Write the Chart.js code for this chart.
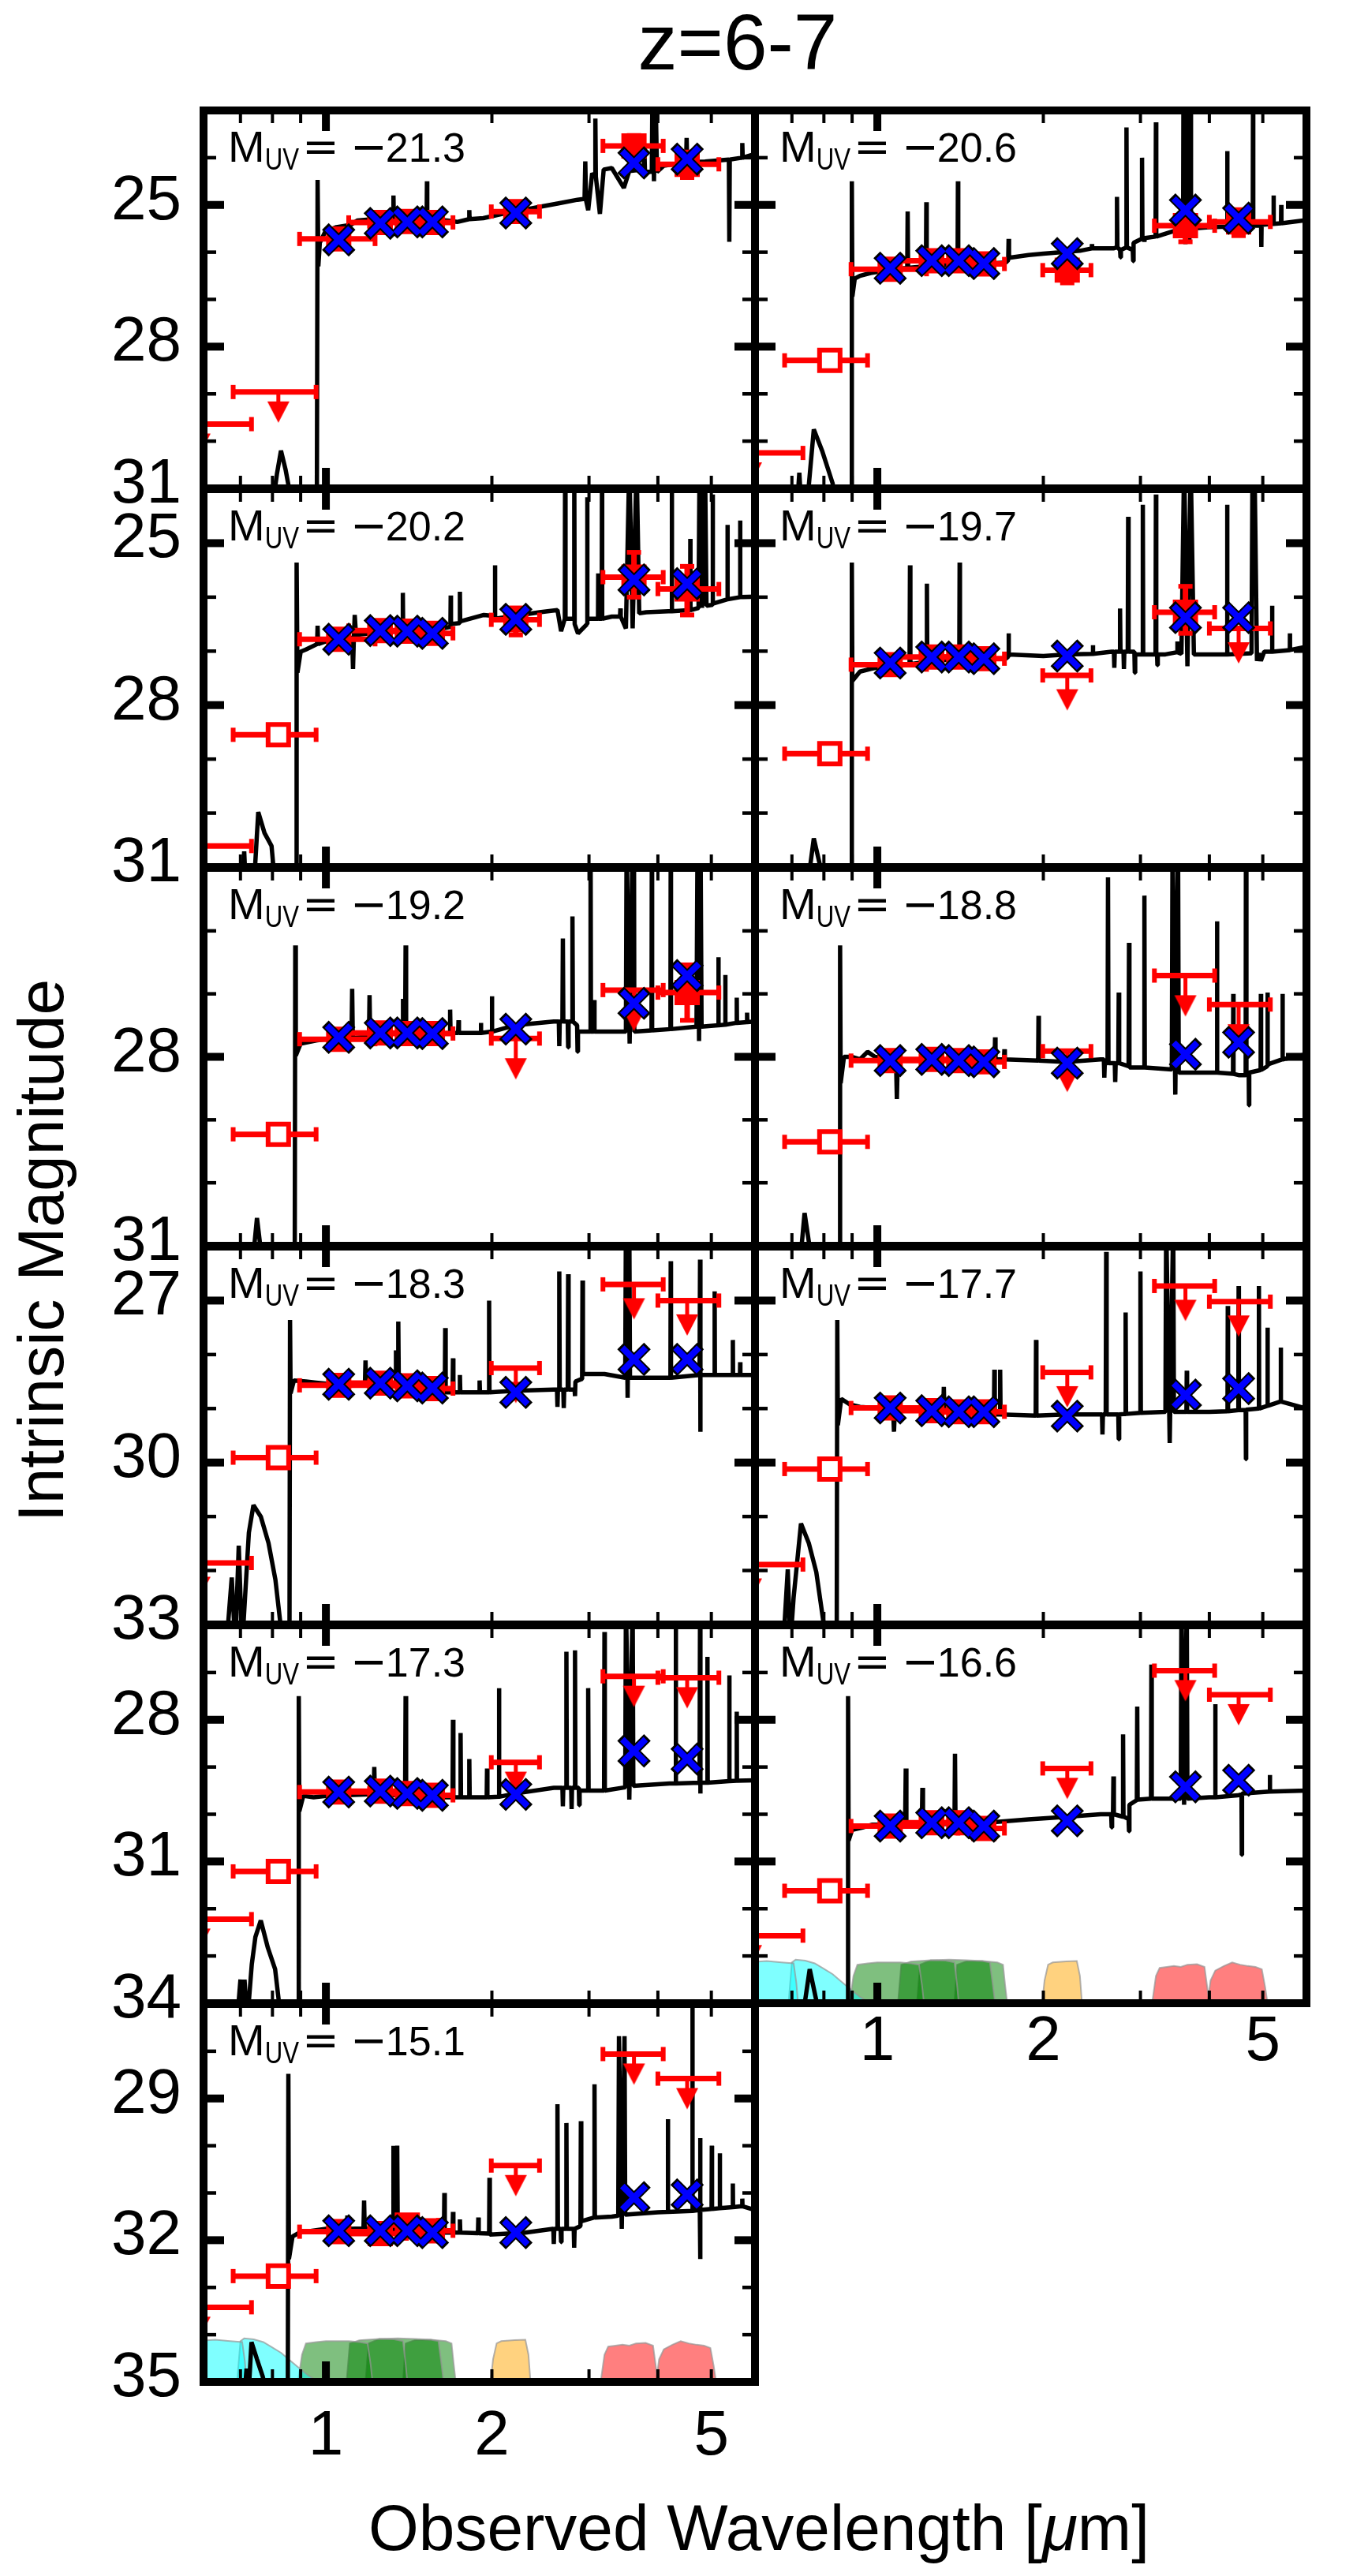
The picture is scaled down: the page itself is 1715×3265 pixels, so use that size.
<!DOCTYPE html>
<html>
<head>
<meta charset="utf-8">
<title>z=6-7</title>
<script src="https://cdn.jsdelivr.net/npm/chart.js@4.4.1/dist/chart.umd.min.js"></script>
<style>
  html, body { margin: 0; padding: 0; background: #fff; }
  body { position: relative; width: 1715px; height: 3265px; overflow: hidden; font-family: "Liberation Sans", Arial, sans-serif; }
  canvas { position: absolute; }
  .lbl { position: absolute; white-space: nowrap; line-height: 1; color: #000; }
  #title { font-size: 100px; left: 935px; top: 3px; transform: translateX(-50%); }
  #ytitle { font-size: 82px; left: 52px; top: 1585px; transform: translate(-50%, -50%) rotate(-90deg); }
  #xtitle { font-size: 82px; left: 962px; top: 3163px; transform: translateX(-50%); }
</style>
</head>
<body>
<div class="lbl" id="title">z=6-7</div>
<div class="lbl" id="ytitle">Intrinsic Magnitude</div>
<div class="lbl" id="xtitle">Observed Wavelength [<i>μ</i>m]</div>
<script>
// filters: F606W F814W F105W F125W F140W F160W Ks IRAC1 IRAC2
const filterNames = ['F606W', 'F814W', 'F105W', 'F125W', 'F140W', 'F160W', 'Ks', 'IRAC1', 'IRAC2'];
const filterWave = [0.59, 0.82, 1.055, 1.255, 1.405, 1.56, 2.21, 3.62, 4.52];
const filterLo = [0.47, 0.679, 0.896, 1.10, 1.20, 1.40, 1.995, 3.18, 4.0];
const filterHi = [0.733, 0.96, 1.228, 1.40, 1.60, 1.70, 2.44, 4.09, 5.16];

// M_UV of each panel
const muvValues = [-21.3, -20.6, -20.2, -19.7, -19.2, -18.8, -18.3, -17.7, -17.3, -16.6, -15.1];

// y ranges (magnitudes) per row, and the labelled ticks
const rowMin = [23, 24, 25, 26, 26, 27];
const rowMax = [31, 31, 31, 33, 34, 35];
const rowLabels = [[25, 28, 31], [25, 28, 31], [28, 31], [27, 30, 33], [28, 31, 34], [29, 32, 35]];
const xLabels = [1, 2, 5];
const xMinor = [0.7, 0.8, 0.9, 2, 3, 4, 5];
const xMajor = [1];

// filter transmission (wavelength, relative throughput)
const curveF606W = [[0.47,0],[0.49,0.88],[0.53,0.92],[0.58,0.9],[0.63,0.93],[0.67,0.9],[0.705,0.88],[0.713,0.45],[0.718,0]];
const curveF814W = [[0.69,0],[0.70,0.9],[0.711,0.96],[0.74,0.94],[0.77,0.88],[0.80,0.76],[0.83,0.64],[0.86,0.48],[0.90,0.28],[0.93,0.14],[0.97,0]];
const curveF105W = [[0.89,0],[0.905,0.6],[0.92,0.85],[0.96,0.88],[1.0,0.9],[1.05,0.9],[1.1,0.9],[1.15,0.88],[1.19,0.85],[1.205,0.4],[1.215,0]];
const curveF125W = [[1.09,0],[1.105,0.85],[1.15,0.92],[1.25,0.95],[1.33,0.94],[1.38,0.9],[1.395,0.4],[1.405,0]];
const curveF140W = [[1.18,0],[1.195,0.85],[1.25,0.95],[1.35,0.96],[1.45,0.95],[1.55,0.93],[1.6,0.9],[1.62,0.4],[1.635,0]];
const curveF160W = [[1.38,0],[1.395,0.85],[1.45,0.92],[1.55,0.93],[1.65,0.9],[1.69,0.85],[1.705,0.4],[1.72,0]];
const curveKs = [[1.99,0],[2.01,0.5],[2.04,0.85],[2.08,0.9],[2.2,0.92],[2.3,0.93],[2.33,0.6],[2.35,0]];
const curveIRAC1 = [[3.15,0],[3.2,0.6],[3.25,0.78],[3.35,0.8],[3.45,0.82],[3.55,0.8],[3.65,0.85],[3.8,0.86],[3.92,0.8],[3.97,0.3],[4.0,0]];
const curveIRAC2 = [[3.97,0],[4.02,0.5],[4.1,0.72],[4.25,0.82],[4.4,0.9],[4.55,0.85],[4.7,0.82],[4.85,0.8],[4.98,0.75],[5.05,0.35],[5.1,0]];
const filterFill = ['rgba(0,255,255,0.5)', 'rgba(0,255,255,0.5)', 'rgba(0,128,0,0.5)', 'rgba(0,128,0,0.5)', 'rgba(0,128,0,0.5)', 'rgba(0,128,0,0.5)', 'rgba(255,165,0,0.5)', 'rgba(255,0,0,0.5)', 'rgba(255,0,0,0.5)'];
const filterPanels = [9, 10];

// model spectra [wavelength um, mag]
const spec1 = [[0.80,31.4],[0.815,30.7],[0.829,30.2],[0.845,30.6],[0.87,31.4],
  [0.963,31.4],[0.966,24.47],[0.969,26.3],[0.975,25.8],[0.998,25.56],[1.045,25.47],[1.11,25.42],[1.14,25.33],[1.22,25.3],
  [1.324,25.3],[1.326,24.8],[1.328,25.3],[1.42,25.3],[1.523,25.3],[1.525,24.5],[1.527,25.3],[1.66,25.33],[1.73,25.36],
  [1.818,25.3],[1.82,25.11],[1.822,25.3],[1.93,25.28],[2.09,25.19],[2.47,25.03],[2.63,24.97],[2.86,24.89],
  [2.945,24.87],[2.954,24.08],[2.963,24.9],[2.99,25.11],[3.04,24.33],[3.075,24.4],[3.081,23.17],[3.087,24.4],
  [3.14,25.19],[3.19,24.25],[3.3,24.22],[3.47,24.64],[3.55,24.28],[3.77,24.25],[3.78,23.78],[3.79,24.3],
  [3.90,24.3],[3.91,22.5],[3.935,24.5],[3.96,22.5],[3.985,24.3],[4.1,24.17],[4.5,24.1],[4.51,23.58],[4.52,24.1],
  [4.87,24.08],[5.38,24.04],[5.39,25.78],[5.40,24.04],[5.68,24.0],[5.69,23.69],[5.70,24.0],[6.0,23.92]];
const spec2 = [[0.715,31.4],[0.722,30.67],[0.728,31.4],[0.745,31.4],[0.767,29.75],[0.795,30.22],[0.83,30.9],[0.84,31.4],
  [0.897,31.4],[0.899,24.5],[0.901,26.94],[0.91,26.56],[0.93,26.5],[0.972,26.44],[1.05,26.38],
  [1.133,26.33],[1.135,25.14],[1.137,26.33],[1.225,26.3],[1.227,24.94],[1.229,26.3],[1.26,26.28],
  [1.398,26.26],[1.40,24.5],[1.402,26.26],[1.47,26.26],[1.71,26.22],[1.727,26.17],[1.73,25.72],[1.733,26.12],
  [1.88,26.06],[2.0,26.03],[2.33,25.97],[2.448,25.92],[2.45,25.83],[2.452,25.92],[2.68,25.92],
  [2.715,25.9],[2.72,24.83],[2.725,25.9],[2.755,25.95],[2.76,26.11],[2.765,25.95],[2.825,25.9],[2.83,23.36],[2.835,25.9],
  [2.905,25.95],[2.91,26.19],[2.915,25.8],[3.015,25.72],[3.02,24.0],[3.025,25.72],[3.045,25.72],[3.05,25.78],[3.055,25.7],
  [3.195,25.67],[3.2,23.25],[3.205,25.67],[3.43,25.56],[3.585,25.55],[3.59,22.5],[3.62,25.83],[3.65,22.5],[3.68,25.8],
  [3.70,22.5],[3.705,25.5],[3.99,25.47],[4.305,25.46],[4.31,23.86],[4.315,25.46],[4.66,25.44],[4.795,25.44],[4.80,22.5],
  [4.805,25.44],[4.965,25.44],[4.97,25.89],[4.975,25.42],[5.225,25.4],[5.23,24.8],[5.235,25.4],[5.395,25.39],[5.40,25.0],
  [5.405,25.39],[6.0,25.32]];
const spec3 = [[0.705,31.4],[0.711,30.71],[0.716,31.4],[0.74,31.4],[0.754,29.98],[0.774,30.37],[0.797,30.61],[0.81,31.4],
  [0.883,31.4],[0.885,25.36],[0.888,27.4],[0.90,27.01],[0.92,26.97],[0.964,26.87],[0.966,26.53],[0.968,26.87],[1.0,26.82],
  [1.116,26.75],[1.12,27.33],[1.124,26.75],[1.128,26.33],[1.134,26.7],[1.2,26.67],[1.377,26.63],[1.379,25.92],[1.381,26.63],
  [1.535,26.63],[1.682,26.55],[1.684,25.97],[1.686,26.5],[1.748,26.48],[1.75,25.9],[1.752,26.45],[1.934,26.33],
  [2.024,26.35],[2.026,25.41],[2.028,26.4],[2.44,26.28],[2.63,26.24],[2.67,26.63],[2.712,26.4],[2.715,23.5],[2.72,26.4],
  [2.816,26.4],[2.821,23.5],[2.826,26.5],[2.865,26.67],[2.975,26.5],[2.978,24.15],[2.981,26.4],[3.115,26.4],[3.118,25.56],
  [3.121,26.4],[3.164,26.4],[3.167,23.5],[3.17,26.4],[3.3,26.36],[3.415,26.36],[3.42,26.21],[3.425,26.36],[3.5,26.58],
  [3.55,23.5],[3.6,26.58],[3.66,23.5],[3.7,26.3],[3.81,26.28],[4.18,26.26],[4.237,26.26],[4.24,23.5],[4.243,26.26],
  [4.577,26.24],[4.58,24.92],[4.583,26.24],[4.74,26.2],[4.76,23.5],[4.81,26.2],[4.87,23.5],[4.9,26.16],[5.027,26.14],
  [5.03,24.1],[5.033,26.12],[5.347,26.04],[5.35,24.66],[5.353,26.04],[5.637,26.0],[5.64,24.58],[5.643,26.0],[6.0,25.99]];
const spec4 = [[0.746,31.4],[0.767,30.47],[0.805,31.4],
  [0.897,31.4],[0.899,25.36],[0.901,27.55],[0.93,27.38],[0.972,27.33],[1.05,27.26],[1.144,27.24],[1.146,25.41],[1.148,27.24],
  [1.228,27.2],[1.23,25.75],[1.232,27.2],[1.26,27.18],[1.408,27.15],[1.41,25.36],[1.412,27.15],[1.47,27.14],[1.71,27.14],
  [1.728,27.1],[1.73,26.67],[1.732,27.06],[2.0,27.09],[2.2,27.06],[2.458,27.05],[2.46,26.89],[2.462,27.05],[2.66,27.01],
  [2.685,27.01],[2.69,27.31],[2.695,27.01],[2.75,27.01],[2.755,26.21],[2.76,27.01],[2.795,27.01],[2.80,27.33],[2.805,27.01],
  [2.845,27.01],[2.85,24.51],[2.855,27.01],[2.925,27.01],[2.93,27.4],[2.935,27.06],[3.025,27.06],[3.03,24.29],[3.035,27.06],
  [3.195,27.06],[3.2,24.1],[3.205,27.06],[3.215,27.06],[3.22,27.26],[3.225,27.06],[3.33,27.06],[3.498,27.02],[3.5,26.82],
  [3.502,27.02],[3.56,27.05],[3.6,23.5],[3.65,27.28],[3.7,23.5],[3.75,27.06],[4.0,27.06],[4.308,27.06],[4.31,24.29],
  [4.312,27.06],[4.77,27.04],[4.79,23.5],[4.83,23.5],[4.88,27.18],[4.92,27.04],[4.96,27.18],[5.03,27.01],[5.198,27.01],
  [5.2,26.16],[5.202,27.01],[5.598,26.98],[5.6,26.67],[5.602,26.98],[6.0,26.92]];
const spec5 = [[0.734,31.4],[0.75,30.56],[0.77,31.4],
  [0.878,31.4],[0.88,26.23],[0.882,27.98],[0.90,27.79],[0.96,27.74],[1.0,27.72],[1.113,27.7],[1.116,26.92],[1.119,27.7],
  [1.197,27.68],[1.20,27.02],[1.203,27.66],[1.25,27.62],[1.377,27.62],[1.38,27.08],[1.383,27.62],[1.392,27.62],[1.395,26.23],
  [1.398,27.62],[1.55,27.63],[1.677,27.62],[1.68,27.25],[1.683,27.62],[1.737,27.62],[1.74,27.42],[1.743,27.62],
  [1.907,27.62],[1.91,27.46],[1.913,27.62],[1.997,27.6],[2.0,27.04],[2.003,27.6],[2.2,27.5],[2.59,27.44],[2.645,27.44],
  [2.65,27.83],[2.655,27.44],[2.685,27.44],[2.69,26.12],[2.695,27.44],[2.745,27.44],[2.75,27.85],[2.755,27.44],
  [2.795,27.44],[2.80,25.77],[2.805,27.44],[2.855,27.5],[2.86,27.92],[2.865,27.6],[3.015,27.6],[3.02,24.5],[3.025,27.6],
  [3.06,27.6],[3.065,27.1],[3.07,27.6],[3.25,27.6],[3.50,27.6],[3.51,24.5],[3.555,27.79],[3.60,24.5],[3.62,24.5],
  [3.625,27.6],[3.895,27.58],[3.9,24.5],[3.905,27.58],[4.215,27.56],[4.22,24.5],[4.225,27.56],[4.70,27.52],[4.72,24.5],
  [4.75,27.75],[4.78,24.5],[4.8,27.52],[5.145,27.5],[5.15,26.42],[5.155,27.5],[5.295,27.49],[5.3,26.7],[5.305,27.49],
  [5.555,27.46],[5.56,27.06],[5.565,27.46],[5.8,27.45],[5.805,27.3],[5.81,27.45],[6.0,27.44]];
const spec6 = [[0.722,31.4],[0.738,30.48],[0.765,31.4],
  [0.854,31.4],[0.856,26.23],[0.858,28.42],[0.87,28.0],[0.90,28.0],[0.93,28.04],[0.96,27.92],[0.99,28.0],[1.081,28.04],
  [1.085,28.67],[1.089,28.04],[1.2,28.04],[1.632,28.04],[1.635,27.69],[1.638,28.04],[1.697,28.04],[1.70,27.88],[1.703,28.04],
  [1.957,28.06],[1.96,27.35],[1.963,28.06],[2.2,28.08],[2.54,28.04],[2.575,28.04],[2.58,28.33],[2.585,28.1],[2.615,28.1],
  [2.62,25.15],[2.625,28.1],[2.695,28.1],[2.70,28.4],[2.705,28.1],[2.735,28.1],[2.74,26.98],[2.745,28.1],[2.855,28.15],
  [2.86,26.19],[2.865,28.17],[2.96,28.17],[3.045,28.17],[3.05,25.44],[3.055,28.17],[3.42,28.2],[3.43,24.5],[3.47,28.6],
  [3.51,24.5],[3.52,28.25],[4.0,28.25],[4.125,28.25],[4.13,25.85],[4.135,28.25],[4.415,28.27],[4.42,27.0],[4.425,28.27],
  [4.52,28.29],[4.655,28.29],[4.66,24.5],[4.67,28.29],[4.715,28.29],[4.72,28.77],[4.725,28.25],[4.955,28.21],[4.96,27.0],
  [4.965,28.21],[5.095,28.15],[5.1,26.98],[5.105,28.12],[5.425,28.04],[5.43,27.0],[5.435,28.04],[6.0,27.96]];
const spec7 = [[0.66,33.4],[0.675,32.13],[0.685,33.4],[0.695,31.54],[0.705,33.4],[0.725,31.3],[0.739,30.79],[0.762,31.0],
  [0.787,31.49],[0.81,32.17],[0.836,33.4],
  [0.859,33.4],[0.861,27.36],[0.863,28.72],[0.875,28.48],[0.92,28.5],[0.96,28.52],[1.0,28.54],[1.177,28.56],[1.18,28.11],
  [1.183,28.56],[1.337,28.58],[1.34,27.92],[1.343,28.58],[1.35,28.58],[1.353,27.39],[1.356,28.6],[1.55,28.66],[1.643,28.7],
  [1.646,27.51],[1.649,28.7],[1.697,28.7],[1.70,28.07],[1.703,28.7],[1.747,28.7],[1.75,28.38],[1.753,28.7],[1.897,28.7],
  [1.90,28.48],[1.903,28.7],[1.974,28.7],[1.977,27.0],[1.98,28.7],[2.2,28.67],[2.59,28.65],[2.625,28.65],[2.63,28.97],
  [2.635,28.65],[2.645,28.65],[2.65,26.46],[2.655,28.65],[2.695,28.65],[2.70,28.99],[2.705,28.65],[2.745,28.65],[2.75,26.51],
  [2.755,28.65],[2.825,28.65],[2.83,28.77],[2.835,28.5],[2.915,28.45],[2.92,26.63],[2.925,28.36],[3.2,28.36],[3.49,28.43],
  [3.50,25.5],[3.525,28.8],[3.55,25.5],[3.56,28.43],[4.0,28.43],[4.215,28.43],[4.22,26.27],[4.225,28.43],[4.76,28.38],
  [4.77,26.24],[4.775,29.43],[4.78,28.38],[5.065,28.38],[5.07,26.83],[5.075,28.38],[5.465,28.38],[5.47,27.73],[5.475,28.38],
  [5.635,28.38],[5.64,28.14],[5.645,28.38],[6.0,28.38]];
const spec8 = [[0.675,33.4],[0.688,31.98],[0.695,33.4],[0.705,32.5],[0.727,31.13],[0.751,31.49],[0.775,32.03],[0.81,33.4],
  [0.844,33.4],[0.846,27.36],[0.848,29.31],[0.86,28.82],[0.89,28.92],[0.93,28.97],[0.99,28.99],[1.068,29.0],[1.072,29.43],
  [1.076,29.0],[1.2,29.04],[1.317,29.04],[1.32,28.6],[1.323,29.04],[1.6,29.1],[1.627,29.11],[1.63,28.28],[1.633,29.11],
  [1.667,29.11],[1.67,28.28],[1.673,29.11],[1.937,29.13],[1.94,27.73],[1.943,29.13],[2.2,29.11],[2.5,29.11],[2.555,29.11],
  [2.56,29.48],[2.565,29.11],[2.595,29.11],[2.6,26.1],[2.605,29.11],[2.735,29.11],[2.74,29.57],[2.745,29.11],[2.815,29.1],
  [2.82,27.22],[2.825,29.1],[2.995,29.08],[3.0,26.46],[3.005,29.08],[3.33,29.06],[3.34,25.5],[3.39,29.64],[3.44,25.5],
  [3.45,29.06],[3.635,29.06],[3.64,28.3],[3.645,29.06],[4.0,29.06],[4.315,29.05],[4.32,27.1],[4.325,29.05],[4.515,29.03],
  [4.52,26.73],[4.525,29.03],[4.655,29.03],[4.66,29.94],[4.665,29.02],[4.915,29.0],[4.92,26.73],[4.925,29.0],[5.095,28.95],
  [5.1,27.5],[5.105,28.95],[5.385,28.87],[5.39,27.87],[5.395,28.87],[6.0,29.0]];
const spec9 = [[0.69,34.4],[0.70,33.5],[0.705,34.4],[0.712,33.5],[0.72,34.4],[0.734,33.17],[0.745,32.6],[0.762,32.25],
  [0.785,32.83],[0.809,33.28],[0.83,34.4],
  [0.891,34.4],[0.893,27.5],[0.895,29.94],[0.91,29.61],[0.95,29.64],[1.0,29.61],[1.2,29.58],[1.221,29.58],[1.224,29.0],
  [1.227,29.58],[1.377,29.6],[1.38,29.36],[1.383,29.6],[1.392,29.6],[1.395,27.5],[1.398,29.6],[1.55,29.64],[1.697,29.64],
  [1.70,28.0],[1.703,29.64],[1.752,29.64],[1.755,28.28],[1.758,29.64],[1.817,29.64],[1.82,28.83],[1.823,29.64],[1.957,29.64],
  [1.96,29.03],[1.963,29.64],[2.057,29.63],[2.06,27.33],[2.063,29.63],[2.21,29.56],[2.59,29.44],[2.685,29.44],[2.69,29.83],
  [2.695,29.44],[2.725,29.44],[2.73,26.56],[2.735,29.44],[2.785,29.44],[2.79,29.89],[2.795,29.44],[2.825,29.44],[2.83,26.53],
  [2.835,29.44],[2.875,29.44],[2.88,29.81],[2.885,29.5],[2.985,29.5],[2.99,27.33],[2.995,29.5],[3.195,29.5],[3.2,26.14],
  [3.205,29.5],[3.49,29.43],[3.50,25.5],[3.55,29.69],[3.60,25.5],[3.61,29.4],[4.2,29.35],[4.305,29.35],[4.31,25.5],
  [4.315,29.35],[4.76,29.33],[4.77,25.5],[4.775,29.56],[4.78,29.33],[4.915,29.33],[4.92,26.67],[4.925,29.33],[5.385,29.3],
  [5.39,27.06],[5.395,29.3],[5.555,29.29],[5.56,27.83],[5.565,29.29],[6.0,29.28]];
const spec10 = [[0.73,34.4],[0.754,33.28],[0.79,34.4],
  [0.883,34.4],[0.885,27.5],[0.887,30.56],[0.90,30.33],[0.94,30.28],[0.98,30.22],[1.123,30.22],[1.126,29.03],[1.129,30.22],
  [1.204,30.22],[1.207,29.44],[1.21,30.22],[1.38,30.2],[1.383,28.72],[1.386,30.2],[1.61,30.17],[1.88,30.11],[2.18,30.06],
  [2.54,30.0],[2.655,30.0],[2.66,30.28],[2.665,30.0],[2.675,30.0],[2.68,29.2],[2.685,30.0],[2.785,30.05],[2.79,28.31],
  [2.795,30.05],[2.855,30.1],[2.86,30.36],[2.865,29.8],[2.955,29.7],[2.96,27.72],[2.965,29.69],[3.135,29.67],[3.14,26.83],
  [3.145,29.67],[3.55,29.67],[3.56,25.5],[3.60,29.8],[3.64,25.5],[3.65,29.67],[4.0,29.64],[4.095,29.64],[4.1,27.67],
  [4.105,29.64],[4.5,29.6],[4.575,29.58],[4.58,30.86],[4.585,29.56],[5.145,29.52],[5.15,29.17],[5.155,29.52],[6.0,29.5]];
const spec11 = [[0.711,35.4],[0.718,34.72],[0.723,35.4],[0.733,34.16],[0.75,34.52],[0.768,34.88],[0.787,35.4],
  [0.853,35.4],[0.855,28.48],[0.857,32.4],[0.87,31.92],[0.896,31.84],[1.0,31.76],[1.091,31.76],[1.094,31.48],[1.097,31.76],
  [1.17,31.75],[1.173,31.16],[1.176,31.75],[1.323,31.78],[1.326,30.0],[1.329,31.78],[1.344,31.78],[1.347,30.0],[1.35,31.8],
  [1.5,31.82],[1.637,31.84],[1.64,31.0],[1.643,31.84],[1.697,31.84],[1.70,31.4],[1.703,31.84],[1.747,31.84],[1.75,31.56],
  [1.753,31.84],[1.887,31.85],[1.89,31.52],[1.893,31.85],[1.977,31.86],[1.98,30.68],[1.983,31.88],[2.3,31.84],[2.58,31.76],
  [2.585,31.76],[2.59,32.08],[2.595,31.76],[2.625,31.76],[2.63,29.12],[2.635,31.76],[2.665,31.76],[2.67,32.04],[2.675,31.76],
  [2.725,31.76],[2.73,29.52],[2.735,31.76],[2.815,31.76],[2.82,32.16],[2.825,31.76],[2.895,31.7],[2.9,29.48],[2.905,31.6],
  [3.065,31.52],[3.07,28.7],[3.075,31.52],[3.3,31.5],[3.39,31.48],[3.4,27.68],[3.44,31.76],[3.48,27.68],[3.49,31.46],
  [4.0,31.41],[4.165,31.4],[4.17,29.44],[4.175,31.4],[4.615,31.38],[4.62,26.5],[4.625,31.38],[4.765,31.36],[4.77,29.84],
  [4.775,32.4],[4.78,31.36],[5.005,31.34],[5.01,30.0],[5.015,31.34],[5.175,31.32],[5.18,30.16],[5.185,31.32],[5.465,31.3],
  [5.47,30.8],[5.475,31.3],[5.685,31.28],[5.69,31.12],[5.695,31.28],[6.0,31.36]];

// observed detections [filter, mag, (yLo, yHi)]
const det1 = [[2,25.72],[3,25.37],[4,25.35],[5,25.37],[6,25.14],[7,23.75,23.53,24.03],[8,24.14,23.88,24.42]];
const det2 = [[2,26.36],[3,26.18],[4,26.18],[5,26.25],[6,26.38,26.1,26.65],[7,25.44,25.28,25.78],[8,25.36,25.1,25.65]];
const det3 = [[2,26.78],[3,26.62],[4,26.63],[5,26.67],[6,26.42,26.2,26.7],[7,25.63,25.17,26.0],[8,25.85,25.43,26.33]];
const det4 = [[2,27.25],[3,27.11],[4,27.11],[5,27.14],[7,26.28,25.8,26.67]];
const det5 = [[2,27.72],[3,27.62],[4,27.63],[5,27.63],[8,26.98,26.54,27.42]];
const det6 = [[2,28.06],[3,28.04],[4,28.06],[5,28.08]];
const det7 = [[2,28.57],[3,28.53],[4,28.58],[5,28.63]];
const det8 = [[2,28.99],[3,29.04],[4,29.06],[5,29.06]];
const det9 = [[2,29.53],[3,29.51],[4,29.56],[5,29.6]];
const det10 = [[2,30.25],[3,30.18],[4,30.18],[5,30.3,30.15,30.5]];
const det11 = [[2,31.82],[3,31.86,31.7,32.0],[4,31.68],[5,31.8]];

// upper limits [filter, mag]
const lim1 = [[0,29.64],[1,28.96]];
const lim2 = [[0,30.25]];
const lim3 = [[0,30.61]];
const lim4 = [[6,27.45],[8,26.58]];
const lim5 = [[6,27.71],[7,26.94]];
const lim6 = [[6,27.91],[7,26.71],[8,27.17]];
const lim7 = [[0,31.86],[6,28.25],[7,26.7],[8,27.0]];
const lim8 = [[0,31.89],[6,28.33],[7,26.73],[8,27.02]];
const lim9 = [[0,32.22],[6,28.9],[7,27.08],[8,27.11]];
const lim10 = [[0,32.57],[6,29.03],[7,26.96],[8,27.47]];
const lim11 = [[0,33.42],[6,30.42],[7,28.06],[8,28.58]];

// open squares [filter, mag]
const drop1 = [];
const drop2 = [[1,28.29]];
const drop3 = [[1,28.55]];
const drop4 = [[1,28.9]];
const drop5 = [[1,29.23]];
const drop6 = [[1,29.35]];
const drop7 = [[1,29.91]];
const drop8 = [[1,30.12]];
const drop9 = [[1,31.21]];
const drop10 = [[1,31.62]];
const drop11 = [[1,32.76]];

// model photometry F105W..IRAC2 (blue crosses)
const mod1 = [25.74, 25.39, 25.36, 25.36, 25.17, 24.11, 24.03];
const mod2 = [26.34, 26.18, 26.18, 26.24, 26.03, 25.11, 25.28];
const mod3 = [26.78, 26.62, 26.63, 26.67, 26.41, 25.68, 25.75];
const mod4 = [27.22, 27.11, 27.11, 27.14, 27.09, 26.38, 26.38];
const mod5 = [27.69, 27.62, 27.62, 27.63, 27.56, 27.15, 26.71];
const mod6 = [28.06, 28.04, 28.06, 28.08, 28.1, 27.96, 27.77];
const mod7 = [28.55, 28.53, 28.58, 28.62, 28.7, 28.09, 28.09];
const mod8 = [28.99, 29.04, 29.06, 29.06, 29.14, 28.75, 28.63];
const mod9 = [29.53, 29.51, 29.56, 29.6, 29.58, 28.66, 28.83];
const mod10 = [30.25, 30.18, 30.18, 30.25, 30.14, 29.42, 29.28];
const mod11 = [31.8, 31.8, 31.8, 31.84, 31.84, 31.1, 31.04];

const panelSpec = [spec1, spec2, spec3, spec4, spec5, spec6, spec7, spec8, spec9, spec10, spec11];
const panelDet = [det1, det2, det3, det4, det5, det6, det7, det8, det9, det10, det11];
const panelLim = [lim1, lim2, lim3, lim4, lim5, lim6, lim7, lim8, lim9, lim10, lim11];
const panelDrop = [drop1, drop2, drop3, drop4, drop5, drop6, drop7, drop8, drop9, drop10, drop11];
const panelMod = [mod1, mod2, mod3, mod4, mod5, mod6, mod7, mod8, mod9, mod10, mod11];
const filterCurves = [curveF606W, curveF814W, curveF105W, curveF125W, curveF140W, curveF160W, curveKs, curveIRAC1, curveIRAC2];

// layout
const ML = 170, MR = 40, MT = 100, MB = 150;
const PW = 699, PH = 479;
const CW = ML + PW + MR, CH = MT + PH + MB;
const colLeft = [258, 957];
const rowTop = [140, 620, 1100, 1580, 2060, 2540];
const ARROW = 0.65;       // length of upper-limit arrows, in mag
const HEAD = 27;          // arrow head height, px
const FILTER_DEPTH = 0.96;

Chart.defaults.font.family = '"Liberation Sans", Arial, sans-serif';
Chart.defaults.color = '#000';

// arrow head image: tip at the centre of the image
function makeHead() {
    const c = document.createElement('canvas');
    c.width = 30; c.height = 2 * HEAD + 6;
    const g = c.getContext('2d');
    g.fillStyle = '#ff0000';
    g.beginPath();
    g.moveTo(1, 3);
    g.lineTo(29, 3);
    g.lineTo(15, HEAD + 3);
    g.closePath();
    g.fill();
    return c;
}
const headImg = makeHead();

const panelInfo = {};

function seg(ctx, x0, y0, x1, y1) {
    ctx.beginPath();
    ctx.moveTo(x0, y0);
    ctx.lineTo(x1, y1);
    ctx.stroke();
}

const decoPlugin = {
    id: 'deco',
    // error bars and arrow stems, right after the model spectrum
    afterDatasetDraw(chart, args) {
        const ds = chart.data.datasets[args.index];
        if (!ds.isSpec) return;
        const p = panelInfo[chart.canvas.id];
        const ctx = chart.ctx, xs = chart.scales.x, ys = chart.scales.y, a = chart.chartArea;
        ctx.save();
        ctx.beginPath();
        ctx.rect(a.left, a.top, a.right - a.left, a.bottom - a.top);
        ctx.clip();
        ctx.strokeStyle = '#ff0000';
        ctx.lineCap = 'butt';
        const hbar = (f, m) => {
            const x0 = xs.getPixelForValue(filterLo[f]);
            const x1 = xs.getPixelForValue(filterHi[f]);
            const y = ys.getPixelForValue(m);
            ctx.lineWidth = 7;
            seg(ctx, x0, y, x1, y);
            ctx.lineWidth = 6;
            seg(ctx, x0, y - 9, x0, y + 9);
            seg(ctx, x1, y - 9, x1, y + 9);
        };
        p.det.forEach(d => {
            hbar(d[0], d[1]);
            if (d.length > 2) {
                const x = xs.getPixelForValue(filterWave[d[0]]);
                const y0 = ys.getPixelForValue(d[2]), y1 = ys.getPixelForValue(d[3]);
                ctx.lineWidth = 7;
                seg(ctx, x, y0, x, y1);
                ctx.lineWidth = 6;
                seg(ctx, x - 9, y0, x + 9, y0);
                seg(ctx, x - 9, y1, x + 9, y1);
            }
        });
        p.drop.forEach(d => hbar(d[0], d[1]));
        p.lim.forEach(d => {
            hbar(d[0], d[1]);
            const x = xs.getPixelForValue(filterWave[d[0]]);
            const y0 = ys.getPixelForValue(d[1]);
            const y1 = ys.getPixelForValue(d[1] + ARROW) - HEAD + 1;
            ctx.lineWidth = 5;
            seg(ctx, x, y0, x, y1);
        });
        ctx.restore();
    },
    // frame, inward ticks and the M_UV label
    afterDraw(chart) {
        const p = panelInfo[chart.canvas.id];
        const ctx = chart.ctx, xs = chart.scales.x, ys = chart.scales.y, a = chart.chartArea;
        ctx.save();
        ctx.strokeStyle = '#000';
        ctx.lineCap = 'butt';
        const tickX = (v, len, w) => {
            const x = xs.getPixelForValue(v);
            ctx.lineWidth = w;
            seg(ctx, x, a.bottom, x, a.bottom - len);
            seg(ctx, x, a.top, x, a.top + len);
        };
        const tickY = (v, len, w) => {
            const y = ys.getPixelForValue(v);
            ctx.lineWidth = w;
            seg(ctx, a.left, y, a.left + len, y);
            seg(ctx, a.right, y, a.right - len, y);
        };
        xMinor.forEach(v => tickX(v, 16, 4));
        xMajor.forEach(v => tickX(v, 26, 10));
        for (let m = p.ymin + 1; m < p.ymax; m++) {
            if (p.labels.includes(m)) tickY(m, 26, 10);
            else tickY(m, 16, 4.5);
        }
        ctx.lineWidth = 10;
        ctx.strokeRect(a.left, a.top, a.right - a.left, a.bottom - a.top);

        // M_UV = -xx.x
        ctx.fillStyle = '#000';
        ctx.textBaseline = 'alphabetic';
        ctx.textAlign = 'left';
        let x = a.left + 31;
        const y = a.top + 65;
        ctx.font = '56px "Liberation Sans"';
        ctx.fillText('M', x, y);
        x += ctx.measureText('M').width;
        ctx.font = '39px "Liberation Sans"';
        const wUV = ctx.measureText('UV').width * 0.8;
        ctx.save();
        ctx.translate(x, y + 10);
        ctx.scale(0.8, 1);
        ctx.fillText('UV', 0, 0);
        ctx.restore();
        x += wUV + 4;
        ctx.font = '56px "DejaVu Sans"';
        ctx.fillText('=', x, y);
        x += ctx.measureText('=').width + 14;
        ctx.fillText('\u2212', x, y);
        x += ctx.measureText('\u2212').width - 2;
        ctx.font = '52px "Liberation Sans"';
        ctx.fillText(Math.abs(p.muv).toFixed(1), x, y);
        ctx.restore();
    }
};

for (let i = 0; i < 11; i++) {
    const row = Math.floor(i / 2), col = i % 2;
    const ymin = rowMin[row], ymax = rowMax[row], labels = rowLabels[row];
    const cv = document.createElement('canvas');
    cv.id = 'panel' + i;
    cv.width = CW;
    cv.height = CH;
    cv.style.left = (colLeft[col] - ML) + 'px';
    cv.style.top = (rowTop[row] - MT) + 'px';
    document.body.appendChild(cv);
    panelInfo[cv.id] = { det: panelDet[i], lim: panelLim[i], drop: panelDrop[i], muv: muvValues[i], labels, ymin, ymax };

    const datasets = [];
    if (filterPanels.includes(i)) {
        filterCurves.forEach((c, k) => datasets.push({
            label: filterNames[k],
            data: c.map(([w, t]) => ({ x: w, y: ymax - t * FILTER_DEPTH })),
            showLine: true, pointRadius: 0,
            borderColor: 'rgba(150,150,150,0.7)', borderWidth: 2,
            backgroundColor: filterFill[k], fill: { value: ymax },
            order: 9, clip: 0
        }));
    }
    datasets.push({
        label: 'spec', isSpec: true,
        data: panelSpec[i].map(([x, y]) => ({ x, y })),
        showLine: true, pointRadius: 0,
        borderColor: '#000', borderWidth: 5.5, borderJoinStyle: 'bevel',
        order: 8, clip: 0
    });
    datasets.push({
        label: 'dropout',
        data: panelDrop[i].map(d => ({ x: filterWave[d[0]], y: d[1] })),
        pointStyle: 'rect', pointRadius: 18.4,
        pointBackgroundColor: '#fff', pointBorderColor: '#ff0000', pointBorderWidth: 6,
        order: 5, clip: 0
    });
    datasets.push({
        label: 'limit',
        data: panelLim[i].map(d => ({ x: filterWave[d[0]], y: d[1] + ARROW })),
        pointStyle: headImg, pointRadius: 15,
        order: 5, clip: 0
    });
    datasets.push({
        label: 'observed',
        data: panelDet[i].map(d => ({ x: filterWave[d[0]], y: d[1] })),
        pointStyle: 'rect', pointRadius: 22.6,
        pointBackgroundColor: '#ff0000', pointBorderColor: '#ff0000', pointBorderWidth: 0,
        order: 4, clip: 0
    });
    datasets.push({
        label: 'model outline',
        data: panelMod[i].map((m, k) => ({ x: filterWave[k + 2], y: m })),
        pointStyle: 'crossRot', pointRadius: 24,
        pointBorderColor: '#000', pointBorderWidth: 12,
        order: 2, clip: 0
    });
    datasets.push({
        label: 'model',
        data: panelMod[i].map((m, k) => ({ x: filterWave[k + 2], y: m })),
        pointStyle: 'crossRot', pointRadius: 21,
        pointBorderColor: '#0000ff', pointBorderWidth: 8,
        order: 1, clip: 0
    });

    const showX = (i === 9 || i === 10);
    new Chart(cv, {
        type: 'scatter',
        data: { datasets },
        options: {
            responsive: false, animation: false, devicePixelRatio: 1, events: [],
            layout: { padding: { left: 0, right: MR, top: MT, bottom: 0 } },
            plugins: { legend: { display: false }, tooltip: { enabled: false } },
            scales: {
                x: {
                    type: 'logarithmic', min: 0.6, max: 6.0,
                    grid: { display: false, drawTicks: false }, border: { display: false },
                    ticks: { display: showX, font: { size: 80 }, padding: col === 0 ? 22 : 2, maxRotation: 0, autoSkip: false,
                             callback: v => String(v) },
                    afterBuildTicks: s => { s.ticks = xLabels.map(v => ({ value: v })); },
                    afterFit: s => { s.height = MB; }
                },
                y: {
                    type: 'linear', reverse: true, min: ymin, max: ymax,
                    grid: { display: false, drawTicks: false }, border: { display: false },
                    ticks: { display: col === 0, font: { size: 80 }, padding: 28, autoSkip: false, labelOffset: -4,
                             callback: v => String(v) },
                    afterBuildTicks: s => { s.ticks = labels.map(v => ({ value: v })); },
                    afterFit: s => { s.width = ML; }
                }
            }
        },
        plugins: [decoPlugin]
    });
}
</script>
</body>
</html>
